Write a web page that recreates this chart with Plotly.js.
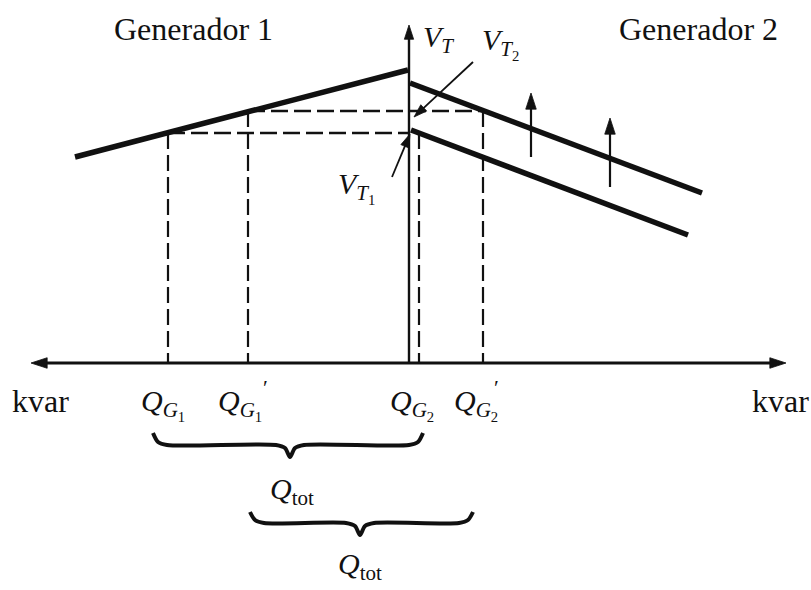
<!DOCTYPE html>
<html>
<head>
<meta charset="utf-8">
<script src="https://cdn.plot.ly/plotly-3.0.1.min.js"></script>
<style>html,body{margin:0;padding:0;background:#fff;}#chart{width:811px;height:590px;}</style>
</head>
<body>
<div id="chart"></div>
<script>
// ---- Diagram data (Q in kvar-like units, origin at the V axis; V in voltage-like units, origin at the Q axis)
const qAxisLeft = -378;
const qAxisRight = 377;
const vAxisTop = 338;

// Generator 1 droop characteristic
const gen1Q = [-334, -1];
const gen1V = [206, 293];
// Generator 2: raised (new) characteristic and original characteristic
const gen2NewQ = [1, 293];
const gen2NewV = [280, 170];
const gen2OldQ = [2, 279];
const gen2OldV = [233, 128];

// Operating points: QG1, QG1', QG2, QG2'
const qValues = [-241, -161, 10, 74];
const vValues = [230, 252, 230, 252];
const vT1 = 230;
const vT2 = 252;

// Upward shift arrows on generator 2
const shiftQ = [122, 201];
const shiftFrom = [206, 176];
const shiftTo = [270, 245];

// Leader lines: [fromQ, fromV, toQ, toV]
const leaderVT2 = [64, 301, 5, 246];
const leaderVT1 = [-17, 186, 1, 229];

// Braces for Q_tot : [left, right, tip]
const brace1 = [-256, 14, -119];
const brace2 = [-159, 64, -49];

// Labels
const genLabels = ["Generador 1", "Generador 2"];
const axisUnit = "kvar";

const FONT = "Liberation Serif, Times New Roman, serif";
const ink = "#111";

const traces = [];
function addLine(x, y, width, dash, shape) {
  traces.push({
    type: "scatter", mode: "lines", x: x, y: y,
    line: {color: ink, width: width, dash: dash || "solid", shape: shape || "linear", smoothing: 0.8},
    hoverinfo: "skip", showlegend: false, connectgaps: false
  });
}
function addArrow(x0, y0, x1, y1, width, headSize) {
  traces.push({
    type: "scatter", mode: "lines+markers", x: [x0, x1], y: [y0, y1],
    line: {color: ink, width: width},
    marker: {symbol: "arrow", angleref: "previous", size: [0, headSize], opacity: 1,
             color: ink, line: {width: 0.8, color: ink}},
    hoverinfo: "skip", showlegend: false
  });
}

// axes with arrows
addArrow(0, 0, qAxisLeft, 0, 3.2, 17);
addArrow(0, 0, qAxisRight, 0, 3.2, 17);
addArrow(0, 0, 0, vAxisTop, 2.4, 15);

// characteristic lines
addLine(gen1Q, gen1V, 5.5);
addLine(gen2NewQ, gen2NewV, 5.5);
addLine(gen2OldQ, gen2OldV, 5.5);

// vertical dashed drops
(function () {
  const x = [], y = [];
  for (let i = 0; i < qValues.length; i++) {
    x.push(qValues[i], qValues[i], null);
    y.push(vValues[i], 0, null);
  }
  addLine(x, y, 2.2, "16px,6px");
})();
// horizontal dashed lines (V_T1 and V_T2)
addLine([qValues[0], 1, null, qValues[1], qValues[3]], [vT1, vT1, null, vT2, vT2], 2.6, "17px,6px");

// shift arrows
for (let i = 0; i < shiftQ.length; i++) addArrow(shiftQ[i], shiftFrom[i], shiftQ[i], shiftTo[i], 2.2, 17);
// leader lines
addArrow(leaderVT2[0], leaderVT2[1], leaderVT2[2], leaderVT2[3], 1.8, 14);
addArrow(leaderVT1[0], leaderVT1[1], leaderVT1[2], leaderVT1[3], 1.8, 14);

// braces
function brace(b, yTop, yBar, yTip) {
  const x0 = b[0], x1 = b[1], xm = b[2];
  const xs = [x0, x0 + 5, x0 + 14, xm - 14, xm - 5, xm, xm + 5, xm + 14, x1 - 14, x1 - 5, x1];
  const ys = [yTop, yBar + 3, yBar, yBar, yBar - 3, yTip, yBar - 3, yBar, yBar, yBar + 3, yTop];
  addLine(xs, ys, 4, "solid", "spline");
}
brace(brace1, -70, -82, -94);
brace(brace2, -149, -160, -172);

const annotations = [];
function label(text, x, y, size, xanchor) {
  annotations.push({
    x: x, y: y, xref: "x", yref: "y", text: text, showarrow: false,
    xanchor: xanchor || "center", yanchor: "middle",
    font: {family: FONT, size: size, color: ink}
  });
}
label(genLabels[0], -216, 334, 32);
label(genLabels[1], 289, 334, 32);
label(axisUnit, -369, -38, 32);
label(axisUnit, 371, -38, 32);

label("<i>V</i><sub><i>T</i></sub>", 12, 324, 30, "left");
label("<i>V</i><sub><i>T</i><sub>2</sub></sub>", 71, 320, 30, "left");
label("<i>V</i><sub><i>T</i><sub>1</sub></sub>", -73, 176, 30, "left");

label("<i>Q</i><sub><i>G</i><sub>1</sub></sub>", -270, -41, 30, "left");
label("<i>Q</i><sub><i>G</i><sub>1</sub></sub>", -193, -41, 30, "left");
label("<i>Q</i><sub><i>G</i><sub>2</sub></sub>", -21, -41, 30, "left");
label("<i>Q</i><sub><i>G</i><sub>2</sub></sub>", 43, -41, 30, "left");
label("′", -144, -24, 22);
label("′", 87, -24, 22);

label("<i>Q</i><sub>tot</sub>", -117, -128, 30);
label("<i>Q</i><sub>tot</sub>", -49, -203, 30);

const layout = {
  width: 811, height: 590,
  margin: {l: 0, r: 0, t: 0, b: 0},
  paper_bgcolor: "#fff", plot_bgcolor: "#fff",
  xaxis: {range: [-409, 402], visible: false, fixedrange: true},
  yaxis: {range: [-227, 363], visible: false, fixedrange: true},
  showlegend: false,
  annotations: annotations
};
Plotly.newPlot("chart", traces, layout, {staticPlot: true, displayModeBar: false});
</script>
</body>
</html>
